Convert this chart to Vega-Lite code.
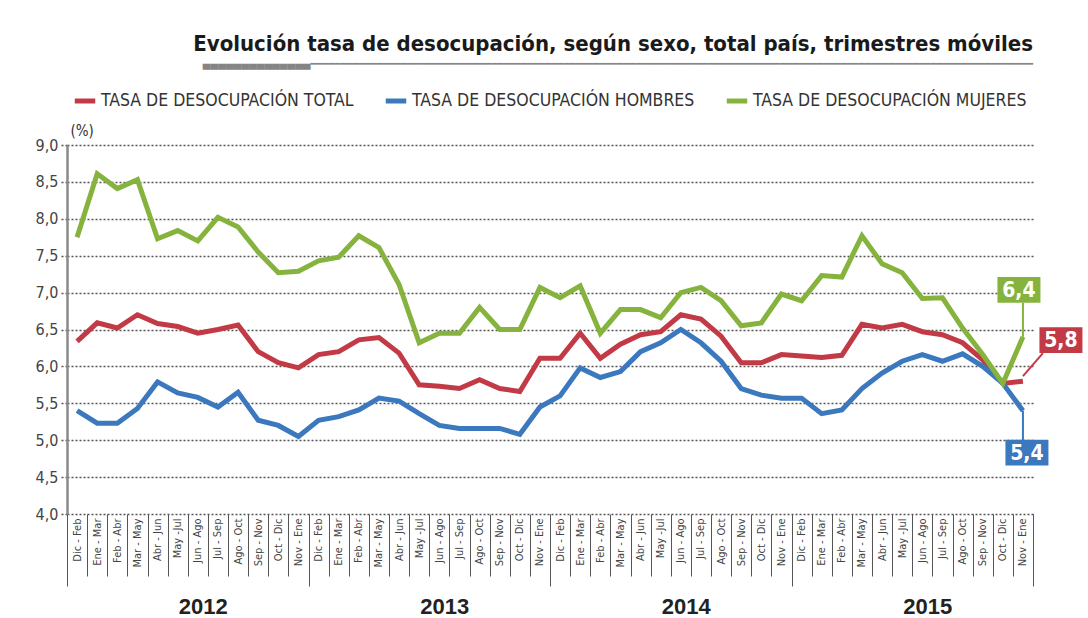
{
  "$schema": "https://vega.github.io/schema/vega-lite/v6.json",
  "width": 966,
  "height": 369,
  "autosize": {"type": "none"},
  "padding": {"left": 67, "top": 145, "right": 55, "bottom": 104},
  "background": "white",
  "title": {
    "text": "Evolución tasa de desocupación, según sexo, total país, trimestres móviles",
    "subtitle": "▄▄▄▄▄▄▄▄▄▄▄▄▄▄━━━━━━━━━━━━━━━━━━━━━━━━━━━━━━━━━━━━━━━━━━━━━━━━━━━━━━━━━━━━━━━━━━━━━━━━━━━━━━━━━━━━━━━━━━━━━━━━━━━━━━━━━━━━━━━━━━━━━━━━",
    "anchor": "end",
    "frame": "group",
    "font": "DejaVu Sans Condensed, sans-serif",
    "fontSize": 22,
    "fontWeight": "bold",
    "color": "#1a1a1a",
    "subtitleFont": "DejaVu Sans, sans-serif",
    "subtitleFontSize": 10,
    "subtitleColor": "#858585",
    "subtitlePadding": 3,
    "offset": 18
  },
  "data": {
    "values": [
      {"periodo": "Dic - Feb 2012", "anio": "2012", "Total": 6.34, "Hombres": 5.40, "Mujeres": 7.75},
      {"periodo": "Ene - Mar 2012", "anio": "2012", "Total": 6.59, "Hombres": 5.23, "Mujeres": 8.61},
      {"periodo": "Feb - Abr 2012", "anio": "2012", "Total": 6.52, "Hombres": 5.23, "Mujeres": 8.41},
      {"periodo": "Mar - May 2012", "anio": "2012", "Total": 6.70, "Hombres": 5.43, "Mujeres": 8.53},
      {"periodo": "Abr - Jun 2012", "anio": "2012", "Total": 6.58, "Hombres": 5.79, "Mujeres": 7.73},
      {"periodo": "May -Jul 2012", "anio": "2012", "Total": 6.54, "Hombres": 5.64, "Mujeres": 7.84},
      {"periodo": "Jun - Ago 2012", "anio": "2012", "Total": 6.45, "Hombres": 5.58, "Mujeres": 7.70},
      {"periodo": "Jul - Sep 2012", "anio": "2012", "Total": 6.50, "Hombres": 5.45, "Mujeres": 8.02},
      {"periodo": "Ago - Oct 2012", "anio": "2012", "Total": 6.56, "Hombres": 5.65, "Mujeres": 7.89},
      {"periodo": "Sep - Nov 2012", "anio": "2012", "Total": 6.20, "Hombres": 5.27, "Mujeres": 7.55},
      {"periodo": "Oct - Dic 2012", "anio": "2012", "Total": 6.05, "Hombres": 5.20, "Mujeres": 7.27},
      {"periodo": "Nov - Ene 2012", "anio": "2012", "Total": 5.98, "Hombres": 5.05, "Mujeres": 7.29},
      {"periodo": "Dic - Feb 2013", "anio": "2013", "Total": 6.16, "Hombres": 5.27, "Mujeres": 7.43},
      {"periodo": "Ene - Mar 2013", "anio": "2013", "Total": 6.20, "Hombres": 5.32, "Mujeres": 7.48},
      {"periodo": "Feb - Abr 2013", "anio": "2013", "Total": 6.36, "Hombres": 5.41, "Mujeres": 7.77},
      {"periodo": "Mar - May 2013", "anio": "2013", "Total": 6.39, "Hombres": 5.57, "Mujeres": 7.61},
      {"periodo": "Abr - Jun 2013", "anio": "2013", "Total": 6.18, "Hombres": 5.53, "Mujeres": 7.11},
      {"periodo": "May -Jul 2013", "anio": "2013", "Total": 5.75, "Hombres": 5.36, "Mujeres": 6.32},
      {"periodo": "Jun - Ago 2013", "anio": "2013", "Total": 5.73, "Hombres": 5.20, "Mujeres": 6.45},
      {"periodo": "Jul - Sep 2013", "anio": "2013", "Total": 5.70, "Hombres": 5.16, "Mujeres": 6.45},
      {"periodo": "Ago - Oct 2013", "anio": "2013", "Total": 5.82, "Hombres": 5.16, "Mujeres": 6.80},
      {"periodo": "Sep - Nov 2013", "anio": "2013", "Total": 5.70, "Hombres": 5.16, "Mujeres": 6.50},
      {"periodo": "Oct - Dic 2013", "anio": "2013", "Total": 5.66, "Hombres": 5.08, "Mujeres": 6.50},
      {"periodo": "Nov - Ene 2013", "anio": "2013", "Total": 6.11, "Hombres": 5.45, "Mujeres": 7.07},
      {"periodo": "Dic - Feb 2014", "anio": "2014", "Total": 6.11, "Hombres": 5.60, "Mujeres": 6.93},
      {"periodo": "Ene - Mar 2014", "anio": "2014", "Total": 6.45, "Hombres": 5.98, "Mujeres": 7.09},
      {"periodo": "Feb - Abr 2014", "anio": "2014", "Total": 6.11, "Hombres": 5.85, "Mujeres": 6.45},
      {"periodo": "Mar - May 2014", "anio": "2014", "Total": 6.30, "Hombres": 5.93, "Mujeres": 6.77},
      {"periodo": "Abr - Jun 2014", "anio": "2014", "Total": 6.43, "Hombres": 6.20, "Mujeres": 6.77},
      {"periodo": "May -Jul 2014", "anio": "2014", "Total": 6.47, "Hombres": 6.32, "Mujeres": 6.66},
      {"periodo": "Jun - Ago 2014", "anio": "2014", "Total": 6.70, "Hombres": 6.50, "Mujeres": 7.00},
      {"periodo": "Jul - Sep 2014", "anio": "2014", "Total": 6.64, "Hombres": 6.32, "Mujeres": 7.07},
      {"periodo": "Ago - Oct 2014", "anio": "2014", "Total": 6.41, "Hombres": 6.07, "Mujeres": 6.89},
      {"periodo": "Sep - Nov 2014", "anio": "2014", "Total": 6.05, "Hombres": 5.70, "Mujeres": 6.55},
      {"periodo": "Oct - Dic 2014", "anio": "2014", "Total": 6.05, "Hombres": 5.61, "Mujeres": 6.59},
      {"periodo": "Nov - Ene 2014", "anio": "2014", "Total": 6.16, "Hombres": 5.57, "Mujeres": 6.98},
      {"periodo": "Dic - Feb 2015", "anio": "2015", "Total": 6.14, "Hombres": 5.57, "Mujeres": 6.89},
      {"periodo": "Ene - Mar 2015", "anio": "2015", "Total": 6.12, "Hombres": 5.36, "Mujeres": 7.23},
      {"periodo": "Feb - Abr 2015", "anio": "2015", "Total": 6.15, "Hombres": 5.41, "Mujeres": 7.21},
      {"periodo": "Mar - May 2015", "anio": "2015", "Total": 6.57, "Hombres": 5.70, "Mujeres": 7.77},
      {"periodo": "Abr - Jun 2015", "anio": "2015", "Total": 6.52, "Hombres": 5.91, "Mujeres": 7.39},
      {"periodo": "May -Jul 2015", "anio": "2015", "Total": 6.57, "Hombres": 6.07, "Mujeres": 7.27},
      {"periodo": "Jun - Ago 2015", "anio": "2015", "Total": 6.47, "Hombres": 6.16, "Mujeres": 6.92},
      {"periodo": "Jul - Sep 2015", "anio": "2015", "Total": 6.43, "Hombres": 6.07, "Mujeres": 6.93},
      {"periodo": "Ago - Oct 2015", "anio": "2015", "Total": 6.32, "Hombres": 6.17, "Mujeres": 6.52},
      {"periodo": "Sep - Nov 2015", "anio": "2015", "Total": 6.09, "Hombres": 6.00, "Mujeres": 6.16},
      {"periodo": "Oct - Dic 2015", "anio": "2015", "Total": 5.77, "Hombres": 5.77, "Mujeres": 5.77},
      {"periodo": "Nov - Ene 2015", "anio": "2015", "Total": 5.8, "Hombres": 5.4, "Mujeres": 6.4}
    ]
  },
  "transform": [{"fold": ["Total", "Hombres", "Mujeres"], "as": ["serie", "tasa"]}],
  "layer": [
    {
      "encoding": {
        "x": {
          "field": "periodo", "type": "ordinal", "sort": null, "bandPosition": 0.5,
          "scale": {"type": "band", "paddingInner": 0, "paddingOuter": 0},
          "axis": {
            "title": null, "labelAngle": -90, "labelExpr": "slice(datum.label, 0, -5)",
            "labelFont": "DejaVu Sans Condensed, sans-serif",
            "labelFontSize": 11, "labelColor": "#444", "labelOverlap": false,
            "tickBand": "extent", "tickSize": 62, "tickColor": "#555", "tickWidth": 1,
            "labelPadding": -58, "domain": false, "grid": false
          }
        },
        "y": {
          "field": "tasa", "type": "quantitative",
          "scale": {"domain": [4, 9], "nice": false, "zero": false},
          "axis": {
            "title": "(%)", "titleAngle": 0, "titleAlign": "left", "titleBaseline": "bottom",
            "titleX": 3, "titleY": -7, "titleFontSize": 15, "titleFontWeight": "normal",
            "titleColor": "#333", "titleFont": "DejaVu Sans Condensed, sans-serif",
            "values": [4, 4.5, 5, 5.5, 6, 6.5, 7, 7.5, 8, 8.5, 9], "format": ".1f",
            "labelFont": "DejaVu Sans Condensed, sans-serif",
            "labelFontSize": 16, "labelColor": "#444", "labelPadding": 3,
            "grid": true, "gridDash": [2, 2], "gridColor": "#555", "gridWidth": 1.5,
            "tickDash": [2, 2], "tickSize": 6, "tickColor": "#555", "tickWidth": 1.5,
            "domainColor": "#8a8a8a", "domainWidth": 2.5
          }
        }
      },
      "layer": [
        {
          "mark": {"type": "line", "strokeWidth": 5},
          "encoding": {
            "color": {
              "field": "serie", "type": "nominal",
              "scale": {"domain": ["Total", "Hombres", "Mujeres"], "range": ["#c23a45", "#3b78bd", "#86b33d"]},
              "legend": {
                "orient": "none", "legendX": 5, "legendY": -57, "direction": "horizontal",
                "title": null, "symbolType": "stroke", "symbolStrokeWidth": 5, "symbolSize": 420,
                "labelExpr": "'TASA DE DESOCUPACIÓN ' + upper(datum.label)",
                "labelFont": "DejaVu Sans Condensed, sans-serif",
                "labelFontSize": 17.5, "labelColor": "#333", "columnPadding": 21, "labelOffset": 3,
                "labelLimit": 400
              }
            }
          }
        },
        {
          "transform": [{"filter": "datum.periodo === 'Nov - Ene 2015' && datum.serie === 'Mujeres'"}],
          "layer": [
            {"mark": {"type": "rule", "color": "#86b33d", "strokeWidth": 2, "y2Offset": -34}, "encoding": {"y2": {"field": "tasa"}}},
            {"mark": {"type": "point", "shape": "M-1,-0.6H1V0.6H-1Z", "size": 1849, "filled": true, "opacity": 1, "color": "#86b33d", "xOffset": -4, "yOffset": -47}},
            {"mark": {"type": "text", "color": "white", "fontWeight": "bold", "fontSize": 21, "font": "DejaVu Sans Condensed, sans-serif", "align": "center", "baseline": "middle", "xOffset": -4, "yOffset": -46}, "encoding": {"text": {"field": "tasa", "type": "quantitative", "format": ".1f"}}}
          ]
        },
        {
          "transform": [{"filter": "datum.periodo === 'Nov - Ene 2015' && datum.serie === 'Total'"}],
          "layer": [
            {"mark": {"type": "rule", "color": "#c23a45", "strokeWidth": 2, "yOffset": -5, "y2Offset": -28, "x2Offset": 20}, "encoding": {"x2": {"field": "periodo"}, "y2": {"field": "tasa"}}},
            {"mark": {"type": "point", "shape": "M-1,-0.6H1V0.6H-1Z", "size": 1849, "filled": true, "opacity": 1, "color": "#c23a45", "xOffset": 38, "yOffset": -41}},
            {"mark": {"type": "text", "color": "white", "fontWeight": "bold", "fontSize": 21, "font": "DejaVu Sans Condensed, sans-serif", "align": "center", "baseline": "middle", "xOffset": 38, "yOffset": -40}, "encoding": {"text": {"field": "tasa", "type": "quantitative", "format": ".1f"}}}
          ]
        },
        {
          "transform": [{"filter": "datum.periodo === 'Nov - Ene 2015' && datum.serie === 'Hombres'"}],
          "layer": [
            {"mark": {"type": "rule", "color": "#3b78bd", "strokeWidth": 2, "y2Offset": 30}, "encoding": {"y2": {"field": "tasa"}}},
            {"mark": {"type": "point", "shape": "M-1,-0.6H1V0.6H-1Z", "size": 1849, "filled": true, "opacity": 1, "color": "#3b78bd", "xOffset": 4, "yOffset": 42}},
            {"mark": {"type": "text", "color": "white", "fontWeight": "bold", "fontSize": 21, "font": "DejaVu Sans Condensed, sans-serif", "align": "center", "baseline": "middle", "xOffset": 4, "yOffset": 43}, "encoding": {"text": {"field": "tasa", "type": "quantitative", "format": ".1f"}}}
          ]
        }
      ]
    },
    {
      "mark": {"type": "rule", "opacity": 0},
      "encoding": {
        "x": {
          "field": "anio", "type": "ordinal",
          "scale": {"type": "band", "paddingInner": 0, "paddingOuter": 0},
          "axis": {
            "orient": "bottom",
            "title": null, "labelAngle": 0, "tickBand": "extent", "tickSize": 72,
            "tickColor": "#555", "tickWidth": 1, "labelPadding": 10, "labelOffset": 15,
            "labelFont": "Liberation Sans, Arial, sans-serif", "labelFontSize": 22,
            "labelFontWeight": "bold", "labelColor": "#222", "domain": false, "grid": false
          }
        }
      }
    }
  ],
  "resolve": {"scale": {"x": "independent"}},
  "config": {
    "locale": {"number": {"decimal": ",", "thousands": ".", "grouping": [3], "currency": ["$", ""]}},
    "view": {"stroke": null}
  }
}
